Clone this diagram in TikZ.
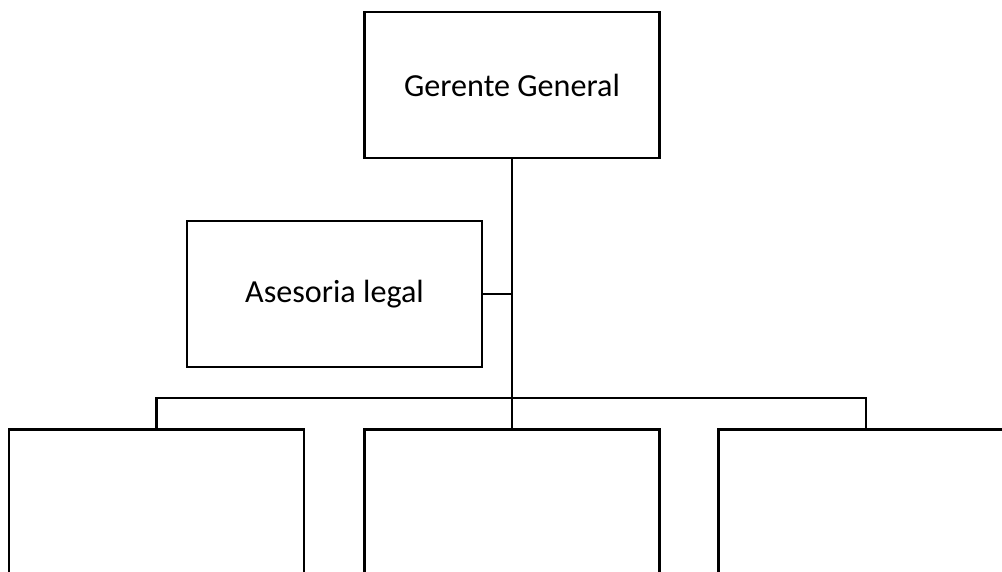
\documentclass[tikz,border=0pt]{standalone}
\usepackage{fontspec}
\setmainfont{Carlito}
\usetikzlibrary{positioning}
\tikzset{
    caja/.style={draw, line width=1.6pt, minimum width=5.9cm, minimum height=2.92cm, inner sep=0pt, font=\fontsize{18.3}{22}\selectfont},
    linea/.style={line width=1.6pt}
}
\begin{document}
\begin{tikzpicture}[x=0.02cm, y=0.02cm]%% organigrama
            \useasboundingbox (0, 0) rectangle (1002, 572);
            \clip (0, 0) rectangle (1002, 572);

                \node[caja] (gerente) at (512, 487){Gerente General};
                \node[caja] (asesoria) at (334.5, 278){Asesoria legal};

                \node[caja, minimum height=4cm] (depA) at (156.5, 42.5){};
                \node[caja, minimum height=4cm] (depB) at (512, 42.5){};
                \node[caja, minimum height=4cm] (depC) at (866, 42.5){};

                \coordinate (junta) at (512, 174);

                \draw[linea] (gerente.south) to (junta);
                \draw[linea] (asesoria.east) to (asesoria.east -| junta);
                \draw[linea] (depA.north) to (depA.north |- junta) to (depC.north |- junta) to (depC.north);
                \draw[linea] (depB.north) to (junta);

            \end{tikzpicture}
\end{document}
